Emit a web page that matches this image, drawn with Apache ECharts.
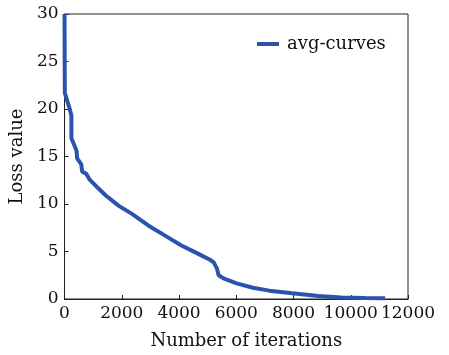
<!DOCTYPE html>
<html>
<head>
<meta charset="utf-8">
<script src="https://cdn.jsdelivr.net/npm/echarts@6/dist/echarts.min.js"></script>
<style>
  html, body { margin: 0; padding: 0; background: #fff; }
  #chart { width: 449px; height: 355px; }
</style>
</head>
<body>
<div id="chart"></div>
<script>
// iterations and averaged loss
const iterations = [0, 5, 10, 182, 240, 242, 353, 420, 440, 583, 617, 754, 868, 1097,
  1440, 1897, 2355, 2925, 3497, 4069, 4640, 5099, 5212, 5326, 5383,
  5555, 6012, 6583, 7155, 7955, 8870, 9670, 10500, 11200]
const lossValues = [30, 25, 21.7, 20.0, 19.3, 16.9, 16.1, 15.6, 14.8, 14.2, 13.4, 13.2, 12.6, 11.9,
  10.9, 9.8, 8.96, 7.74, 6.7, 5.66, 4.8, 4.1, 3.85, 3.2, 2.5,
  2.17, 1.65, 1.19, 0.88, 0.6, 0.31, 0.15, 0.1, 0.07]
const seriesName = 'avg-curves'

const FONT = 'DejaVu Serif'
const chart = echarts.init(document.getElementById('chart'), null, { renderer: 'canvas' })

chart.setOption({
  animation: false,
  grid: {
    left: 58, top: 14, right: 41, bottom: 55,
    show: true, borderColor: '#222', borderWidth: 1,
  },
  legend: {
    data: [{ name: seriesName, icon: 'rect' }],
    left: 252, top: 30,
    itemWidth: 22, itemHeight: 4,
    itemGap: 8,
    textStyle: { fontFamily: FONT, fontSize: 18, color: '#111', padding: [0, 0, 0, 3] },
  },
  xAxis: {
    type: 'value', min: 0, max: 12000, interval: 2000,
    name: 'Number of iterations', nameLocation: 'middle', nameGap: 33,
    nameTextStyle: { fontFamily: FONT, fontSize: 18, color: '#111', padding: [0, 0, 0, 20] },
    axisLine: { lineStyle: { color: '#222', width: 1 } },
    axisTick: { inside: true, length: 4, lineStyle: { color: '#222' } },
    axisLabel: {
      fontFamily: FONT, fontSize: 17, color: '#111', margin: 6,
      showMinLabel: true, showMaxLabel: true, hideOverlap: false,
      formatter: v => String(v),
    },
    splitLine: { show: false },
  },
  yAxis: {
    type: 'value', min: 0, max: 30, interval: 5,
    name: 'Loss value', nameLocation: 'middle', nameGap: 29,
    nameTextStyle: { fontFamily: FONT, fontSize: 18, color: '#111' },
    axisLine: { show: true, lineStyle: { color: '#222', width: 1 } },
    axisTick: { show: true, inside: true, length: 4, lineStyle: { color: '#222' } },
    axisLabel: { fontFamily: FONT, fontSize: 17, color: '#111', margin: 6, formatter: v => String(v) },
    splitLine: { show: false },
  },
  series: [{
    name: seriesName,
    type: 'line',
    data: iterations.map((x, i) => [x, lossValues[i]]),
    showSymbol: false,
    lineStyle: { color: '#2b53ad', width: 4 },
    itemStyle: { color: '#2b53ad' },
  }],
})
</script>
</body>
</html>
